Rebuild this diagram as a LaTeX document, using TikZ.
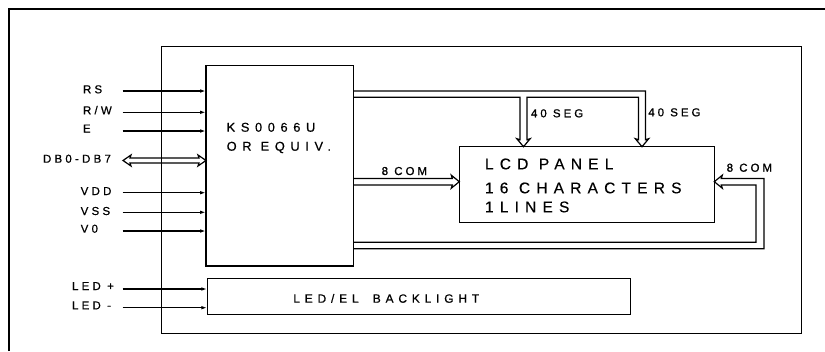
\documentclass[tikz,border=0pt]{standalone}
\usepackage{fontspec}
\setmainfont{Liberation Sans}
\newfontfamily\lblf[LetterSpace=28,FakeBold=0.6]{Liberation Sans}
\newfontfamily\busf[LetterSpace=26,FakeBold=0.9]{Liberation Sans}
\newfontfamily\chipf[LetterSpace=44,FakeBold=0.6]{Liberation Sans}
\newfontfamily\panelf[LetterSpace=40,FakeBold=0.4]{Liberation Sans}
\newfontfamily\blf[LetterSpace=40,FakeBold=0.6]{Liberation Sans}
\usetikzlibrary{arrows.meta,calc}
\tikzset{
  box/.style={draw, line width=1.2pt, inner sep=0pt, outer sep=0pt, anchor=north west},
  txt/.style={inner sep=0pt, outer sep=0pt, anchor=base west},
  lbl/.style={txt, font=\lblf\fontsize{11.5}{13}\selectfont},
  busl/.style={txt, font=\busf\fontsize{11.5}{13}\selectfont},
  chip/.style={txt, font=\chipf\fontsize{12.8}{14}\selectfont},
  panel/.style={txt, font=\panelf\fontsize{15.5}{18}\selectfont},
  blt/.style={txt, font=\blf\fontsize{12}{14}\selectfont},
  sig/.style={line width=1.2pt, -{Latex[length=6pt,width=3.6pt]}},
  bus/.style={line width=1.2pt, line join=miter},
  frame/.style={line width=1.2pt}
}
\begin{document}
\begin{tikzpicture}[x=1pt,y=-1pt]
\useasboundingbox (0,0) rectangle (825,351);
% outer frame (partly outside the picture)
\draw[frame] (9,351) -- (9,9) -- (825,9);
% boxes
\node[box, minimum width=640pt, minimum height=286.6pt] (mod) at (161.7,46.7) {};
\node[box, minimum width=147.3pt, minimum height=200.7pt] (ctrl) at (206,65.3) {};
\node[box, minimum width=255pt, minimum height=75.6pt] (lcd) at (459.3,146.7) {};
\node[box, minimum width=423.4pt, minimum height=35.6pt] (bl) at (207.3,278.7) {};
% texts in boxes
\node[chip] (t1) at (226.7,131.7) {KS0066U};
\node[chip] (t2) at (226.7,150.7) {OR EQUIV.};
\node[panel] (p1) at (485,169.3) {LCD PANEL};
\node[panel] (p2) at (485,193.3) {16 CHARACTERS};
\node[panel] (p3) at (485,212.3) {1LINES};
\node[blt] (b1) at (293.3,302.7) {LED/EL\hspace{6pt} BACKLIGHT};
% input signals
\coordinate (sRS) at (122.7,91);
\coordinate (sRW) at (122.7,112.3);
\coordinate (sE) at (122.7,131);
\coordinate (sVDD) at (122.7,192.7);
\coordinate (sVSS) at (122.7,212.3);
\coordinate (sV0) at (122.7,231);
\coordinate (sLP) at (122.7,289);
\coordinate (sLM) at (122.7,307.7);
\draw[sig] (sRS) -- (sRS -| ctrl.west);
\draw[sig] (sRW) -- (sRW -| ctrl.west);
\draw[sig] (sE) -- (sE -| ctrl.west);
\draw[sig] (sVDD) -- (sVDD -| ctrl.west);
\draw[sig] (sVSS) -- (sVSS -| ctrl.west);
\draw[sig] (sV0) -- (sV0 -| ctrl.west);
\draw[sig] (sLP) -- (sLP -| bl.west);
\draw[sig] (sLM) -- (sLM -| bl.west);
\node[lbl] (lRS) at (83,93.3) {RS};
\node[lbl] (lRW) at (83,114.3) {R/W};
\node[lbl] (lE) at (83,132.5) {E};
\node[lbl] (lDB) at (43,162.7) {DB0-DB7};
\node[lbl] (lVDD) at (80.7,195) {VDD};
\node[lbl] (lVSS) at (80.7,215) {VSS};
\node[lbl] (lV0) at (80.7,232.7) {V0};
\node[lbl] (lLP) at (72,290) {LED +};
\node[lbl] (lLM) at (72,309.3) {LED -};
% data bus double arrow
\coordinate (dbL) at (123,160.5);
\coordinate (dbR) at (dbL -| ctrl.west);
\draw[bus] (dbL) -- ++(8,-5.5) -- ++(-1,3) -- ($(dbR)+(-7,-2.5)$) -- ++(-1,-3) -- (dbR)
  -- ++(-8,5.5) -- ++(1,-3) -- ($(dbL)+(7,2.5)$) -- ++(1,3) -- cycle;
% 40 SEG buses
\coordinate (tip1) at (523.5,0 |- lcd.north);
\coordinate (tip2) at (642,0 |- lcd.north);
\coordinate (m2) at (638.5,97.3);
\draw[bus] (ctrl.east |- 0,91) -| ($(tip2)+(3.5,-7)$) -- ++(3.2,-1) -- (tip2)
  -- ++(-6.7,-8) -- ++(3.2,1) |- (m2) -| ($(tip1)+(3.5,-7)$) -- ++(3.2,-1) -- (tip1)
  -- ++(-6.7,-8) -- ++(3.2,1) |- (ctrl.east |- 0,97.3);
\node[busl] (seg1) at (531,117.3) {40 SEG};
\node[busl] (seg2) at (648.3,116.3) {40 SEG};
% 8 COM left
\coordinate (tip3) at (lcd.west |- 0,181.7);
\draw[bus] (ctrl.east |- 0,178.4) -- ($(tip3)+(-7,-3.3)$) -- ++(-1,-3.2) -- (tip3)
  -- ++(-8,6.5) -- ++(1,-3.2) -- (ctrl.east |- 0,185);
\node[busl] (com1) at (381.7,175) {8 COM};
% 8 COM right
\coordinate (tip4) at (lcd.east |- 0,181.7);
\draw[bus] (ctrl.east |- 0,248.8) -| (764,178.4) -- ($(tip4)+(7,-3.3)$) -- ++(1,-3.2) -- (tip4)
  -- ++(8,6.5) -- ++(-1,-3.2) -- (756,185) |- (ctrl.east |- 0,242.2);
\node[busl] (com2) at (726.7,171.7) {8 COM};
\end{tikzpicture}
\end{document}
